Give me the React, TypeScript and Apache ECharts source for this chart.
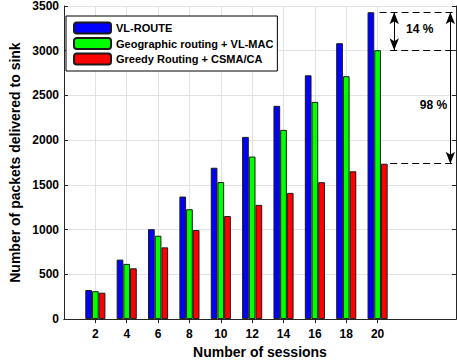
import React, { useEffect, useRef } from 'react';
import * as echarts from 'echarts';

const sessions = [2, 4, 6, 8, 10, 12, 14, 16, 18, 20];
const vlRoute = [325, 665, 1005, 1370, 1692, 2037, 2384, 2725, 3084, 3430];
const geoVlMac = [312, 617, 932, 1228, 1532, 1817, 2115, 2428, 2715, 3006];
const greedyCsma = [295, 568, 802, 995, 1152, 1277, 1411, 1531, 1652, 1737];
const seriesNames = ['VL-ROUTE', 'Geographic routing + VL-MAC', 'Greedy Routing + CSMA/CA'];
const seriesColors = ['#0000ff', '#00ff00', '#ff0000'];
const xAxisMax = 25;
const yAxisMax = 3500;
const yInterval = 500;
const gainLabels = ['14 %', '98 %'];

const FONT = '"Liberation Sans", Arial, Helvetica, sans-serif';
const AXIS_COLOR = '#262626';
const GRID_COLOR = '#e2e2e2';

export default function App() {
  const ref = useRef<HTMLDivElement>(null);
  useEffect(() => {
    const chart = echarts.init(ref.current!, null, { renderer: 'svg' });
    const cats = Array.from({ length: xAxisMax + 1 }, (_, i) => String(i));
    const showTick = (i: number) => sessions.includes(i);
    const barData = (vals: number[]) => sessions.map((s, i) => [String(s), vals[i]]);
    const last = sessions.length - 1;
    const lineStyle = { color: AXIS_COLOR, width: 1 };

    chart.setOption({
      animation: false,
      textStyle: { fontFamily: FONT },
      grid: { left: 53, right: 1, top: 5, bottom: 42, containLabel: false },
      legend: {
        data: seriesNames,
        orient: 'vertical',
        left: 66,
        top: 16,
        itemWidth: 37,
        itemHeight: 11,
        itemGap: 1.5,
        padding: [5, 4, 5, 7],
        borderColor: '#000',
        borderWidth: 1,
        backgroundColor: '#fff',
        textStyle: { fontFamily: FONT, fontWeight: 'bold', fontSize: 11, color: '#000', lineHeight: 14 },
      },
      xAxis: [
        {
          type: 'category',
          data: cats,
          boundaryGap: false,
          position: 'bottom',
          axisLine: { show: true, lineStyle },
          axisTick: { show: true, inside: true, length: 4, interval: showTick, lineStyle },
          axisLabel: {
            interval: showTick,
            fontFamily: FONT,
            fontWeight: 'bold',
            fontSize: 12,
            color: '#000',
            margin: 9,
          },
          splitLine: { show: true, interval: showTick, lineStyle: { color: GRID_COLOR } },
          name: 'Number of sessions',
          nameLocation: 'middle',
          nameGap: 25,
          nameTextStyle: { fontFamily: FONT, fontWeight: 'bold', fontSize: 14, color: '#000' },
        },
        {
          type: 'category',
          data: cats,
          boundaryGap: false,
          position: 'top',
          axisLine: { show: true, lineStyle },
          axisTick: { show: true, inside: true, length: 4, interval: showTick, lineStyle },
          axisLabel: { show: false },
          splitLine: { show: false },
        },
        { type: 'value', min: 0, max: xAxisMax, show: false },
      ],
      yAxis: [
        {
          type: 'value',
          min: 0,
          max: yAxisMax,
          interval: yInterval,
          position: 'left',
          axisLine: { show: true, lineStyle },
          axisTick: { show: true, inside: true, length: 4, lineStyle },
          axisLabel: {
            fontFamily: FONT,
            fontWeight: 'bold',
            fontSize: 12,
            color: '#000',
            margin: 5,
            formatter: (v: number) => String(v),
          },
          splitLine: { show: true, lineStyle: { color: GRID_COLOR } },
          name: 'Number of packets delivered to sink',
          nameLocation: 'middle',
          nameGap: 42,
          nameMoveOverlap: false,
          nameTextStyle: { fontFamily: FONT, fontWeight: 'bold', fontSize: 14, color: '#000' },
        },
        {
          type: 'value',
          min: 0,
          max: yAxisMax,
          interval: yInterval,
          position: 'right',
          axisLine: { show: true, lineStyle },
          axisTick: { show: true, inside: true, length: 4, lineStyle },
          axisLabel: { show: false },
          splitLine: { show: false },
        },
      ],
      series: [
        ...[vlRoute, geoVlMac, greedyCsma].map((vals, k) => ({
          type: 'bar',
          name: seriesNames[k],
          xAxisIndex: 0,
          yAxisIndex: 0,
          data: barData(vals),
          barWidth: 6.7,
          barGap: '0%',
          itemStyle: { color: seriesColors[k], borderColor: '#1a1a1a', borderWidth: 1 },
        })),
        {
          type: 'scatter',
          xAxisIndex: 2,
          yAxisIndex: 0,
          symbolSize: 0,
          silent: true,
          itemStyle: { opacity: 1 },
          data: [
            { name: gainLabels[0], value: [22.69, 3245] },
            { name: gainLabels[1], value: [23.56, 2392] },
          ],
          label: {
            show: true,
            position: 'inside',
            formatter: (p: any) => p.name,
            fontFamily: FONT,
            fontWeight: 'bold',
            fontSize: 12,
            color: '#000',
            opacity: 1,
          },
          markLine: {
            silent: true,
            symbol: ['none', 'none'],
            label: { show: false },
            lineStyle: { color: '#000', type: [7, 4], width: 1.2, opacity: 1 },
            data: [
              [{ coord: [20.125, vlRoute[last]] }, { coord: [xAxisMax, vlRoute[last]] }],
              [{ coord: [20.8, geoVlMac[last]] }, { coord: [xAxisMax, geoVlMac[last]] }],
              [{ coord: [20.8, greedyCsma[last]] }, { coord: [xAxisMax, greedyCsma[last]] }],
            ],
          },
        },
        {
          type: 'scatter',
          xAxisIndex: 2,
          yAxisIndex: 0,
          symbolSize: 0,
          silent: true,
          data: [],
          markLine: {
            silent: true,
            symbol: ['arrow', 'arrow'],
            symbolSize: [7, 12],
            label: { show: false },
            lineStyle: { color: '#000', type: 'solid', width: 1, opacity: 1 },
            itemStyle: { color: '#000' },
            data: [
              [{ coord: [21.06, vlRoute[last]] }, { coord: [21.06, geoVlMac[last]] }],
              [{ coord: [24.64, vlRoute[last]] }, { coord: [24.64, greedyCsma[last]] }],
            ],
          },
        },
      ],
    });
    return () => chart.dispose();
  }, []);
  return (
    <div
      ref={ref}
      style={{ position: 'fixed', left: 0, top: 0, width: 457, height: 364, background: '#fff' }}
    />
  );
}
